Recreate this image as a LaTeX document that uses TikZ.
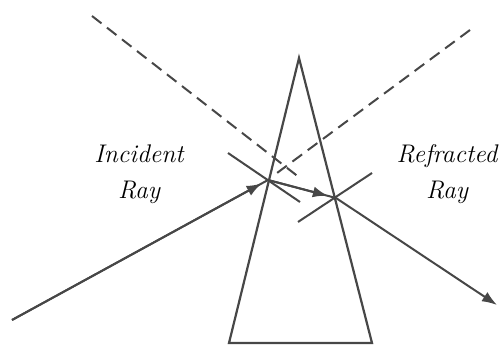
\documentclass[tikz,border=0pt]{standalone}
\usetikzlibrary{arrows.meta, calc}
\tikzset{every node/.style={font=\fontsize{25.5}{36}\selectfont\itshape}}

\begin{document}
\begin{tikzpicture}[x=1pt, y=-1pt, >={Latex[length=15pt,width=11pt]}]
  % Bounding box fixe (taille originale)
  \path[use as bounding box] (0,0) rectangle (500,347);

  % Colors.
  \colorlet{linecol}{black!72}

  % Prism corners.
  \coordinate (apex) at (299,58);
  \coordinate (baseL) at (229,343);
  \coordinate (baseR) at (372,343);

  % Ray points.
  \coordinate (src) at (12,320);
  \coordinate (entry) at (268,180);
  \coordinate (exit) at (336,198);
  \coordinate (tip) at (497,305);

  % Prism.
  \draw[linecol, line width=2.2pt, line join=miter] (apex) -- (baseR) -- (baseL) -- cycle;

  % Normals.
  \draw[linecol, line width=2pt] (228,153) -- (300,202);
  \draw[linecol, line width=2pt] (298,222) -- (372,173);

  % Dashed extensions.
  \draw[linecol, line width=2pt, dash pattern=on 12pt off 7pt] (92,16) -- (300,178);
  \draw[linecol, line width=2pt, dash pattern=on 12pt off 7pt] (470,30) -- (277,173);

  % Rays.
  \draw[linecol, line width=2pt] (src) -- (entry);
  \draw[->, linecol, line width=2pt] (src) -- ($(src)!0.975!(entry)$);
  \draw[linecol, line width=2pt] (entry) -- (exit);
  \draw[->, linecol, line width=2pt] (entry) -- ($(entry)!0.88!(exit)$);
  \draw[->, linecol, line width=2pt] (exit) -- (tip);

  % Labels.
  \node[align=center, anchor=base] (incident) at (139,199) {Incident\\Ray};
  \node[align=center, anchor=base] (refracted) at (447,199) {Refracted\\Ray};
\end{tikzpicture}
\end{document}
